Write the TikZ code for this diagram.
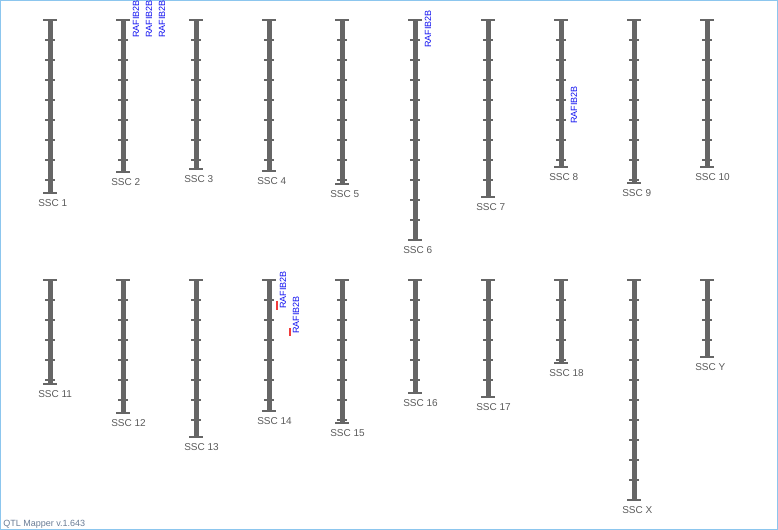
\documentclass[tikz,border=0pt]{standalone}
\usepackage{fontspec}
\setmainfont{Liberation Sans}
\definecolor{chrgray}{HTML}{666666}
\definecolor{lbltext}{HTML}{5A5A5A}
\definecolor{geneblue}{HTML}{1010F0}
\definecolor{markred}{HTML}{F03C3C}
\definecolor{framblue}{HTML}{8CC6EE}
\definecolor{footgray}{HTML}{6A7C95}
\usetikzlibrary{positioning}

\begin{document}
\begin{tikzpicture}[x=0.75pt, y=-0.75pt,
				chrbar/.style={draw=chrgray, line width=3.75pt},
				capline/.style={draw=chrgray, line width=1.2pt},
				tickline/.style={draw=chrgray, line width=0.8pt},
				chrlbl/.style={text=lbltext, font=\fontsize{7.5}{9}\selectfont, inner sep=0pt, anchor=west},
				genelbl/.style={text=geneblue, font=\fontsize{6.75}{8}\selectfont, inner sep=0pt, rotate=90, anchor=west},
				qtlmark/.style={draw=markred, line width=1.8pt},
				footer/.style={text=footgray, font=\fontsize{6.75}{8}\selectfont, inner sep=0pt, anchor=base west}
			]
			\useasboundingbox (0,0) rectangle (778,530);
			\draw[framblue, line width=1pt] (0.5,0.5) rectangle (777.5,529.5);

			\foreach \chr/\cx/\ctop/\cbot in {1/50/20/193, 2/123/20/172, 3/196/20/169, 4/269/20/171, 5/342/20/184,
					6/415/20/240, 7/488/20/197, 8/561/20/167, 9/634/20/183, 10/707/20/167,
					11/50/280/384, 12/123/280/413, 13/196/280/437, 14/269/280/411, 15/342/280/423,
					16/415/280/393, 17/488/280/397, 18/561/280/363, X/634/280/500, Y/707/280/357}
			{
				\coordinate (top\chr) at (\cx,\ctop);
				\coordinate (bot\chr) at (\cx,\cbot);
				\draw[chrbar] (top\chr) -- (bot\chr);
				\draw[capline] ([xshift=-4.9pt]top\chr) -- ([xshift=4.9pt]top\chr);
				\draw[capline] ([xshift=-4.9pt]bot\chr) -- ([xshift=4.9pt]bot\chr);
				\pgfmathtruncatemacro{\tfirst}{\ctop+20}
				\pgfmathtruncatemacro{\tsecond}{\ctop+40}
				\pgfmathtruncatemacro{\tlast}{floor((\cbot-\ctop-1)/20)*20+\ctop}
				\foreach \ty in {\tfirst,\tsecond,...,\tlast}
					\draw[tickline] (\cx-5,\ty) -- (\cx+5,\ty);
				\node[chrlbl] (lbl\chr) at (\cx-12,\cbot+10) {SSC \chr};
			}

			\node[genelbl] (gene2a) at (136,38) {RAFIB2B};
			\node[genelbl] (gene2b) at (149,38) {RAFIB2B};
			\node[genelbl] (gene2c) at (162,38) {RAFIB2B};
			\node[genelbl] (gene6) at (428,48) {RAFIB2B};
			\node[genelbl] (gene8) at (574,124) {RAFIB2B};

			\draw[qtlmark] (277,301) -- (277,310);
			\draw[qtlmark] (290,328) -- (290,336);
			\node[genelbl] (gene14a) at (283,309) {RAFIB2B};
			\node[genelbl] (gene14b) at (296,334) {RAFIB2B};

			\node[footer] (version) at (3,527) {QTL Mapper v.1.643};
		\end{tikzpicture}
\end{document}
